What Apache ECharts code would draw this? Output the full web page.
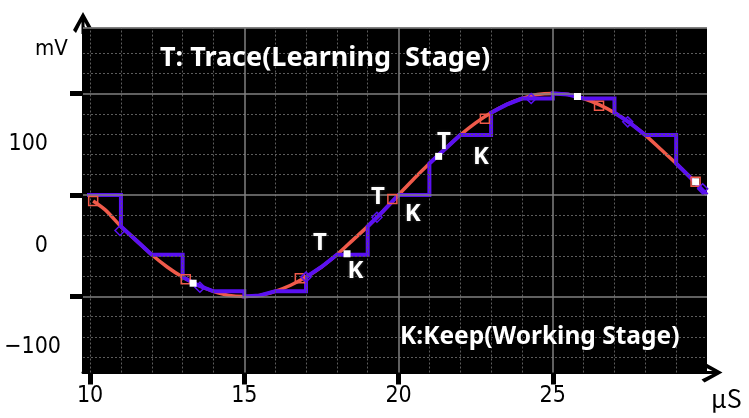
<!DOCTYPE html>
<html>
<head>
<meta charset="utf-8">
<script src="https://cdn.jsdelivr.net/npm/echarts@6/dist/echarts.min.js"></script>
<style>
  html, body { margin: 0; padding: 0; background: #fff; }
  #chart { width: 749px; height: 418px; }
</style>
</head>
<body>
<div id="chart"></div>
<script>
// Input signal (red trace), time in µS and level in mV
const traceTime = [10.1, 10.5, 11, 11.5, 12, 12.5, 13, 13.5, 14, 14.5, 15, 15.5, 16, 16.5, 17, 17.5, 18, 18.5, 19, 19.5,
                   20, 20.5, 21, 21.5, 22, 22.5, 23, 23.5, 24, 24.5, 25, 25.5, 26, 26.5, 27, 27.5, 28, 28.5, 29, 29.5, 29.63];
const traceMv   = [44, 35, 19, 5, -9, -21, -31, -39, -45, -49, -50, -49, -45, -39, -31, -21, -9, 5, 19, 34,
                   50, 66, 81, 95, 109, 121, 131, 139, 145, 149, 150, 149, 145, 139, 131, 121, 109, 95, 81, 66, 62];

// Trace / keep output (blue staircase) vertices
const holdTime = [9.9, 11, 11, 11.5, 12, 13, 13, 13.5, 14, 15, 15, 15.5, 16, 17, 17, 17.5, 18, 19, 19, 19.5,
                  20, 21, 21, 21.5, 22, 23, 23, 23.5, 24, 25, 25, 25.5, 26, 27, 27, 27.5, 28, 29, 29, 29.5, 30];
const holdMv   = [50, 50, 19, 5, -9, -9, -31, -39, -45, -45, -50, -49, -45, -45, -31, -21, -9, -9, 19, 34,
                  50, 50, 81, 95, 109, 109, 131, 139, 145, 145, 150, 149, 145, 145, 131, 121, 109, 109, 81, 66, 50];

// Sampling markers
const redMarkTime = [10.1, 13.1, 16.8, 19.8, 22.8, 26.5, 29.63];
const redMarkMv   = [44, -33, -32, 46, 125, 138, 63];
const whiteMarkTime = [13.34, 18.33, 21.3, 25.8, 29.63];
const whiteMarkMv   = [-37, -8, 88, 147, 63];
const blueMarkTime = [10.97, 13.56, 17.0, 19.3, 24.3, 27.43, 29.86];
const blueMarkMv   = [15, -41, -31, 28, 145, 122, 56];

// Stage annotations placed in data space
const noteText = ['T', 'K', 'T', 'K', 'T', 'K'];
const noteTime = [17.45, 18.6, 19.33, 20.46, 21.47, 22.67];
const noteMv   = [2, -25, 48, 31, 102, 87];

// Axis ticks, labels and grid
const xTicks = [10, 15, 20, 25];
const yTicks = [-50, 50, 150];
const yLabels = [-100, 0, 100];
const xMajor = [15, 20, 25];
const xMinor = [10, 11, 12, 13, 14, 16, 17, 18, 19, 21, 22, 23, 24, 26, 27, 28, 29];
const yMajor = [-50, 50, 150, 215];
const yMinor = [-110, -90, -70, -30, -10, 10, 30, 70, 90, 110, 130, 170, 190];

const RED = '#f05a4a';
const BLUE = '#5a10f2';
const numFont = '"Liberation Sans Narrow", "DejaVu Sans Condensed", "Noto Sans CJK JP", sans-serif';
const boldFont = '"Noto Sans", "Open Sans", sans-serif';
const arrowPath = 'path://M10,0 L20,18 L17,21 L11.5,10 L11.5,22 L8.5,22 L8.5,10 L3,21 L0,18 Z';

const zip = (xs, ys) => xs.map((x, i) => [x, ys[i]]);

const minorStyle = { color: '#5c5c5c', width: 1, type: [2, 2] };
const majorStyle = { color: '#808080', width: 1.5, type: 'solid' };
const gridLines = []
  .concat(yMinor.map(v => ({ yAxis: v, lineStyle: minorStyle })))
  .concat(xMinor.map(v => ({ xAxis: v, lineStyle: minorStyle })))
  .concat(yMajor.map(v => ({ yAxis: v, lineStyle: majorStyle })))
  .concat(xMajor.map(v => ({ xAxis: v, lineStyle: majorStyle })));

const chart = echarts.init(document.getElementById('chart'), null, { renderer: 'canvas' });
chart.setOption({
  animation: false,
  grid: { left: 83, right: 42, top: 27.5, bottom: 45.5, containLabel: false, outerBoundsMode: 'none',
          show: true, backgroundColor: '#000', borderWidth: 0 },
  xAxis: {
    type: 'value', min: 9.77, max: 30,
    axisLine: { show: true, onZero: false, lineStyle: { color: '#000', width: 3 },
      symbol: ['none', arrowPath], symbolSize: [20, 22], symbolOffset: [0, 4.5] },
    axisTick: { show: true, customValues: xTicks, length: 12, lineStyle: { color: '#000', width: 5 } },
    axisLabel: { customValues: xTicks, margin: 12, color: '#000', fontSize: 23, fontFamily: numFont },
    splitLine: { show: false }
  },
  yAxis: {
    type: 'value', min: -125, max: 215,
    axisLine: { show: true, onZero: false, lineStyle: { color: '#000', width: 3 },
      symbol: ['none', arrowPath], symbolSize: [20, 22], symbolOffset: [0, 4.5] },
    axisTick: { show: true, customValues: yTicks, length: 13, lineStyle: { color: '#000', width: 5 } },
    axisLabel: {
      customValues: yLabels, margin: 22, color: '#000', fontSize: 23, fontFamily: numFont,
      formatter: v => v < 0 ? '{n|' + String(v).replace('-', '\u2212') + '}' : '{p|' + v + '}',
      rich: {
        n: { fontSize: 23, fontFamily: numFont, color: '#000' },
        p: { fontSize: 23, fontFamily: numFont, color: '#000', padding: [0, 13, 0, 0] }
      }
    },
    splitLine: { show: false }
  },
  graphic: [
    { type: 'text', left: 35, top: 38, style: { text: 'mV', fontSize: 22, fontFamily: numFont, fill: '#000' } },
    { type: 'text', left: 711, top: 386, style: { text: 'μS', fontSize: 25, fontFamily: '"Noto Sans CJK JP", sans-serif', fill: '#000' } },
    { type: 'text', left: 160, top: 45, z: 100, style: {
        text: 'T: Trace(Learning  Stage)', fill: '#fff', font: 'bold 27px ' + boldFont,
        shadowColor: 'rgba(70,70,70,0.9)', shadowBlur: 3 } },
    { type: 'text', left: 400, top: 325, z: 100, style: {
        text: 'K:Keep(Working Stage)', fill: '#fff', font: 'bold 24.5px ' + boldFont,
        shadowColor: 'rgba(70,70,70,0.9)', shadowBlur: 3 } }
  ],
  series: [
    {
      name: 'grid', type: 'scatter', data: [], silent: true, z: 1,
      markLine: { silent: true, symbol: ['none', 'none'], animation: false, label: { show: false }, data: gridLines }
    },
    {
      name: 'trace', type: 'line', data: zip(traceTime, traceMv), smooth: 0.3, showSymbol: false, z: 3,
      lineStyle: { color: RED, width: 3.5 }, itemStyle: { color: RED }
    },
    {
      name: 'keep', type: 'line', data: zip(holdTime, holdMv), showSymbol: false, z: 4,
      lineStyle: { color: BLUE, width: 4, join: 'miter' }, itemStyle: { color: BLUE }
    },
    {
      name: 'red marks', type: 'scatter', data: zip(redMarkTime, redMarkMv), symbol: 'rect', symbolSize: 9, z: 5,
      itemStyle: { color: 'rgba(0,0,0,0)', borderColor: RED, borderWidth: 1.5, opacity: 1 }
    },
    {
      name: 'blue marks', type: 'scatter', data: zip(blueMarkTime, blueMarkMv), symbol: 'diamond', symbolSize: 10, z: 5,
      itemStyle: { color: 'rgba(0,0,0,0)', borderColor: BLUE, borderWidth: 1.5, opacity: 1 }
    },
    {
      name: 'white marks', type: 'scatter', data: zip(whiteMarkTime, whiteMarkMv), symbol: 'rect', symbolSize: 7, z: 6,
      itemStyle: { color: '#ffffff', opacity: 1 }
    },
    {
      name: 'notes', type: 'scatter', z: 7, symbolSize: 1,
      itemStyle: { color: 'rgba(0,0,0,0)', opacity: 1 },
      data: noteTime.map((t, i) => ({ value: [t, noteMv[i]], name: noteText[i] })),
      label: {
        show: true, position: 'inside', formatter: p => p.name,
        color: '#ffffff', fontFamily: boldFont, fontWeight: 'bold', fontSize: 24,
        textShadowColor: 'rgba(70,70,70,0.9)', textShadowBlur: 3
      }
    }
  ]
});
</script>
</body>
</html>
